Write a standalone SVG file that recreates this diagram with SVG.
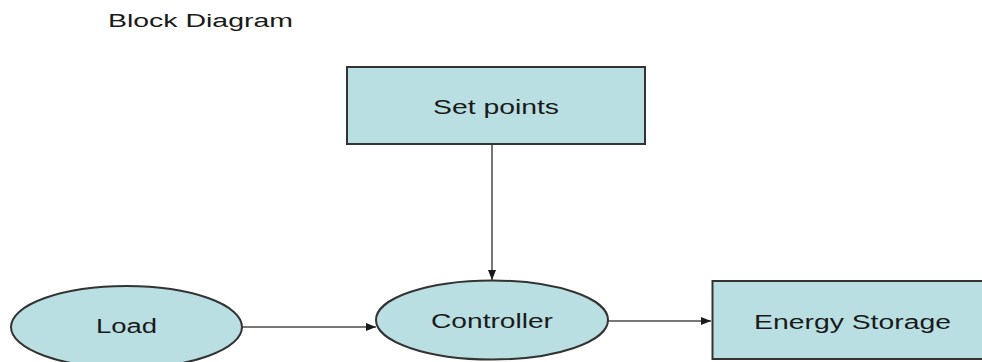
<svg xmlns="http://www.w3.org/2000/svg" width="982" height="362" viewBox="0 0 982 362">
  <style>
    .shape { fill: #b9dfe2; stroke: #333333; stroke-width: 2; }
    .label { font-family: "Liberation Sans", Arial, sans-serif; font-size: 20px; fill: #1a1a1a; text-anchor: start; }
    .title { font-family: "Liberation Sans", Arial, sans-serif; font-size: 18px; fill: #1a1a1a; }
    .link { stroke: #4a4a4a; stroke-width: 1.5; fill: none; marker-end: url(#arrow); }
  </style>
  <defs>
    <marker id="arrow" viewBox="0 0 10 8" refX="10" refY="4" markerWidth="10" markerHeight="8" markerUnits="userSpaceOnUse" orient="auto">
      <path d="M0,0 L10,4 L0,8 z" fill="#1a1a1a"/>
    </marker>
  </defs>
  <rect width="982" height="362" fill="#ffffff"/>

  <text class="title" x="108" y="27" textLength="185" lengthAdjust="spacingAndGlyphs">Block Diagram</text>

  <g id="connectors">
    <line class="link" x1="492" y1="145" x2="492" y2="280"/>
    <line class="link" x1="242" y1="327" x2="376" y2="327"/>
    <line class="link" x1="608" y1="321" x2="711" y2="321"/>
  </g>

  <g id="set-points">
    <rect class="shape" x="347" y="67" width="298" height="77"/>
    <text class="label" x="433" y="114" textLength="126" lengthAdjust="spacingAndGlyphs">Set points</text>
  </g>

  <g id="load">
    <ellipse class="shape" cx="126.5" cy="327" rx="115.5" ry="41"/>
    <text class="label" x="96" y="333" textLength="61" lengthAdjust="spacingAndGlyphs">Load</text>
  </g>

  <g id="controller">
    <ellipse class="shape" cx="492" cy="320" rx="116" ry="39.5"/>
    <text class="label" x="431" y="328" textLength="122" lengthAdjust="spacingAndGlyphs">Controller</text>
  </g>

  <g id="energy-storage">
    <rect class="shape" x="712.5" y="281" width="280" height="78"/>
    <text class="label" x="754" y="329" textLength="197" lengthAdjust="spacingAndGlyphs">Energy Storage</text>
  </g>
</svg>
